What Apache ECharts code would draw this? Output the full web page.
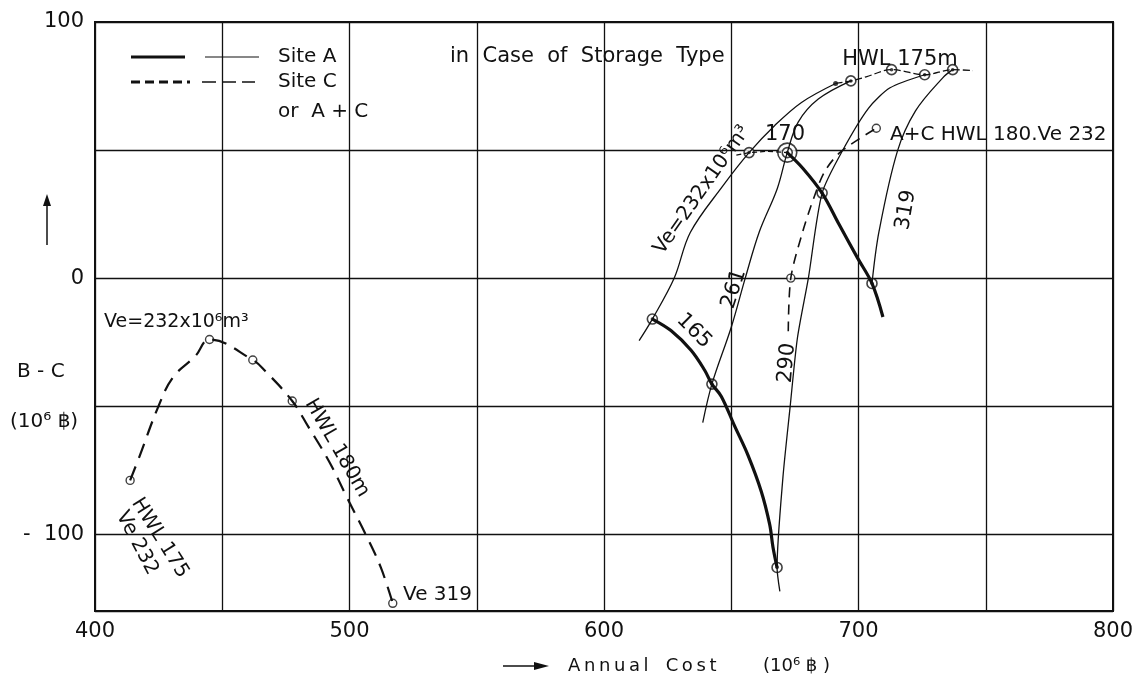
<!DOCTYPE html>
<html>
<head>
<meta charset="utf-8">
<title>B - C vs Annual Cost (Storage Type)</title>
<script src="https://cdn.jsdelivr.net/npm/echarts@6/dist/echarts.min.js"></script>
<style>
  html, body { margin: 0; padding: 0; background: #fff; }
  #chart { width: 1144px; height: 686px; }
</style>
</head>
<body>
<div id="chart"></div>
<script>
// tick labels
const xLabelValues = [400, 500, 600, 700, 800]
const yLabelValues = [-100, 0, 100]

// Site C (dashed), HWL 175 -> 180 m, Ve 232 -> 319
const siteCLine = [[413.8, -79], [417.5, -69.6], [424.8, -50.4], [430.6, -38.8], [439.4, -30.5], [445, -24],
  [462, -32], [466.9, -36.3], [477.5, -48], [483.8, -58], [492.2, -72], [499.3, -86.3], [506.5, -100.4],
  [512.3, -113], [517, -127]]
const siteCPoints = [[413.8, -79], [445, -24], [462, -32], [477.5, -48], [517, -127]]

// Site A, constant HWL curves
const hwl165 = [[619, -16], [626.3, -20.5], [634.2, -28.2], [639.5, -35.9], [642.4, -41.4], [646.1, -46.2],
  [651.3, -57.7], [656.6, -69.2], [661.8, -83.3], [665.1, -96.2], [666.4, -105.1], [668, -113]]
const hwl170Link = [[652, 48], [657, 49], [664, 49.5], [672, 49]]
const hwl170 = [[672, 49], [678.1, 42.9], [685.7, 33.2], [692.4, 20.9], [699.6, 7.9], [705.3, -2.1], [709.6, -15.2]]
const hwl175 = [[691, 76], [697, 77], [703, 78.6], [713, 81.4], [726, 79.4], [737, 81.4], [745, 81]]

// Site A, constant Ve curves
const ve232 = [[613.8, -24.4], [619, -16], [627.6, 0], [633.9, 17.8], [646.7, 36], [657, 49], [667.1, 59.6],
  [677.6, 68.6], [691, 76]]
const ve261 = [[638.8, -56.4], [642.4, -41.4], [650, -19.2], [655.5, 0], [661, 18], [668.1, 35], [672, 49],
  [676.3, 60.9], [684.2, 69.9], [697, 77]]
const ve290 = [[669.1, -122.3], [668, -113], [670.3, -77.9], [673.1, -50.6], [676, -23.4], [680.3, 0],
  [685.7, 33.2], [693.9, 50.1], [703.9, 66.3], [712.4, 74.3], [726, 79.4]]
const ve319 = [[705.3, -2.1], [708.1, 18.4], [715.3, 49.6], [722.4, 65.3], [733.1, 78.2], [737, 81.4]]

// A + C (dashed)
const acLine = [[672.4, -20.8], [673.4, 0], [678.1, 18.2], [682.4, 31.2], [686.7, 41.6], [693.1, 49.4], [707, 58.5]]
const acPoints = [[673.4, 0], [707, 58.5]]

// marked points
const siteAPoints = [[619, -16], [642.4, -41.4], [668, -113], [657, 49], [685.7, 33.2], [705.3, -2.1],
  [697, 77], [713, 81.4], [726, 79.4], [737, 81.4]]
const optimumPoint = [[672, 49]]
const endDots = [[691, 76]]

const INK = '#111'
const FONT = 'DejaVu Sans'

function curve (name, data, width, type, smooth) {
  return {
    name: name,
    type: 'line',
    data: data,
    smooth: smooth === undefined ? 0.35 : smooth,
    symbol: 'none',
    silent: true,
    lineStyle: { color: INK, width: width, type: type || 'solid' }
  }
}

function dots (name, data, size, fill, border) {
  return {
    name: name,
    type: 'scatter',
    data: data,
    symbol: 'circle',
    symbolSize: size,
    silent: true,
    itemStyle: { color: fill, borderColor: INK, borderWidth: border }
  }
}

function txt (text, x, y, size, rot, align) {
  return {
    type: 'text',
    x: x,
    y: y,
    rotation: (rot || 0) * Math.PI / 180,
    style: {
      text: text,
      fill: INK,
      fontSize: size,
      fontFamily: FONT,
      align: align || 'center',
      verticalAlign: 'middle',
      textAlign: align || 'center',
      textVerticalAlign: 'middle'
    }
  }
}

function seg (x1, y1, x2, y2, w, dash) {
  return {
    type: 'line',
    shape: { x1: x1, y1: y1, x2: x2, y2: y2 },
    style: { stroke: INK, lineWidth: w, lineDash: dash || null }
  }
}

const chart = echarts.init(document.getElementById('chart'))

chart.setOption({
  animation: false,
  backgroundColor: '#fff',
  grid: {
    left: 95,
    right: 31,
    top: 22,
    bottom: 75,
    show: true,
    borderColor: INK,
    borderWidth: 2
  },
  xAxis: {
    type: 'value',
    min: 400,
    max: 800,
    interval: 50,
    axisLine: { show: false },
    axisTick: { show: false },
    axisLabel: {
      margin: 10,
      fontSize: 21,
      fontFamily: FONT,
      color: INK,
      formatter: v => xLabelValues.indexOf(v) >= 0 ? String(v) : ''
    },
    splitLine: { show: true, lineStyle: { color: INK, width: 1.3 } }
  },
  yAxis: {
    type: 'value',
    min: -130,
    max: 100,
    splitNumber: 5,
    axisLine: { show: false },
    axisTick: { show: false },
    axisLabel: {
      margin: 11,
      fontSize: 21,
      fontFamily: FONT,
      color: INK,
      showMinLabel: false,
      formatter: v => yLabelValues.indexOf(v) < 0 ? '' : (v < 0 ? '-  ' + (-v) : String(v))
    },
    splitLine: { show: true, lineStyle: { color: INK, width: 1.3 } }
  },
  series: [
    curve('Site C', siteCLine, 2.2, [15, 9], 0.4),
    curve('HWL 165', hwl165, 3.2),
    curve('HWL 170 link', hwl170Link, 1.3, [5, 3], 0),
    curve('HWL 170', hwl170, 3.2),
    curve('HWL 175', hwl175, 1.3, [7, 3]),
    curve('Ve 232', ve232, 1.3),
    curve('Ve 261', ve261, 1.3),
    curve('Ve 290', ve290, 1.3, 'solid', 0.25),
    curve('Ve 319', ve319, 1.3),
    curve('A+C', acLine, 1.6, [10, 7], 0.3),
    dots('Site C points', siteCPoints, 8, '#fff', 1.4),
    dots('A+C points', acPoints, 8, '#fff', 1.4),
    dots('Optimum ring', optimumPoint, 19, '#fff', 1.6),
    dots('Site A points', siteAPoints.concat(optimumPoint), 10, '#fff', 1.6),
    dots('Site A centres', siteAPoints.concat(optimumPoint), 3.5, INK, 0),
    dots('End dots', endDots, 5, INK, 0)
  ],
  graphic: {
    elements: [
      // legend
      seg(131, 57, 185, 57, 3),
      seg(205, 57, 259, 57, 1.2),
      txt('Site A', 278, 57, 20, 0, 'left'),
      seg(131, 82, 190, 82, 3, [9, 5]),
      seg(202, 82, 255, 82, 1.5, [14, 6]),
      txt('Site C', 278, 82, 20, 0, 'left'),
      txt('or  A + C', 278, 112, 20, 0, 'left'),
      txt('in  Case  of  Storage  Type', 450, 57, 21, 0, 'left'),

      // y axis title
      seg(47, 245, 47, 203, 1.5),
      { type: 'polygon', shape: { points: [[43, 206], [51, 206], [47, 194]] }, style: { fill: INK } },
      txt('B - C', 17, 372, 20, 0, 'left'),
      txt('(10⁶ ฿)', 10, 422, 20, 0, 'left'),

      // x axis title
      seg(503, 666, 538, 666, 1.5),
      { type: 'polygon', shape: { points: [[534, 662], [534, 670], [549, 666]] }, style: { fill: INK } },
      txt('A\u2009n\u2009n\u2009u\u2009a\u2009l   C\u2009o\u2009s\u2009t', 568, 666, 18, 0, 'left'),
      txt('(10⁶ ฿ )', 763, 666, 18, 0, 'left'),

      // curve labels, Site C
      txt('Ve=232x10⁶m³', 104, 322, 19, 0, 'left'),
      txt('HWL 180m', 337, 448, 20, -60),
      txt('HWL 175', 160, 538, 20, -58),
      txt('Ve 232', 137, 543, 20, -62),
      txt('Ve 319', 403, 595, 20, 0, 'left'),

      // curve labels, Site A
      txt('HWL 175m', 900, 60, 21),
      txt('170', 785, 135, 21),
      txt('A+C HWL 180.Ve 232', 890, 135, 20, 0, 'left'),
      txt('Ve=232x10⁶m³', 702, 190, 20, 55),
      txt('261', 734, 289, 21, 72),
      txt('165', 694, 331, 21, -45),
      txt('290', 787, 363, 21, 85),
      txt('319', 906, 210, 21, 80)
    ]
  }
})
</script>
</body>
</html>
